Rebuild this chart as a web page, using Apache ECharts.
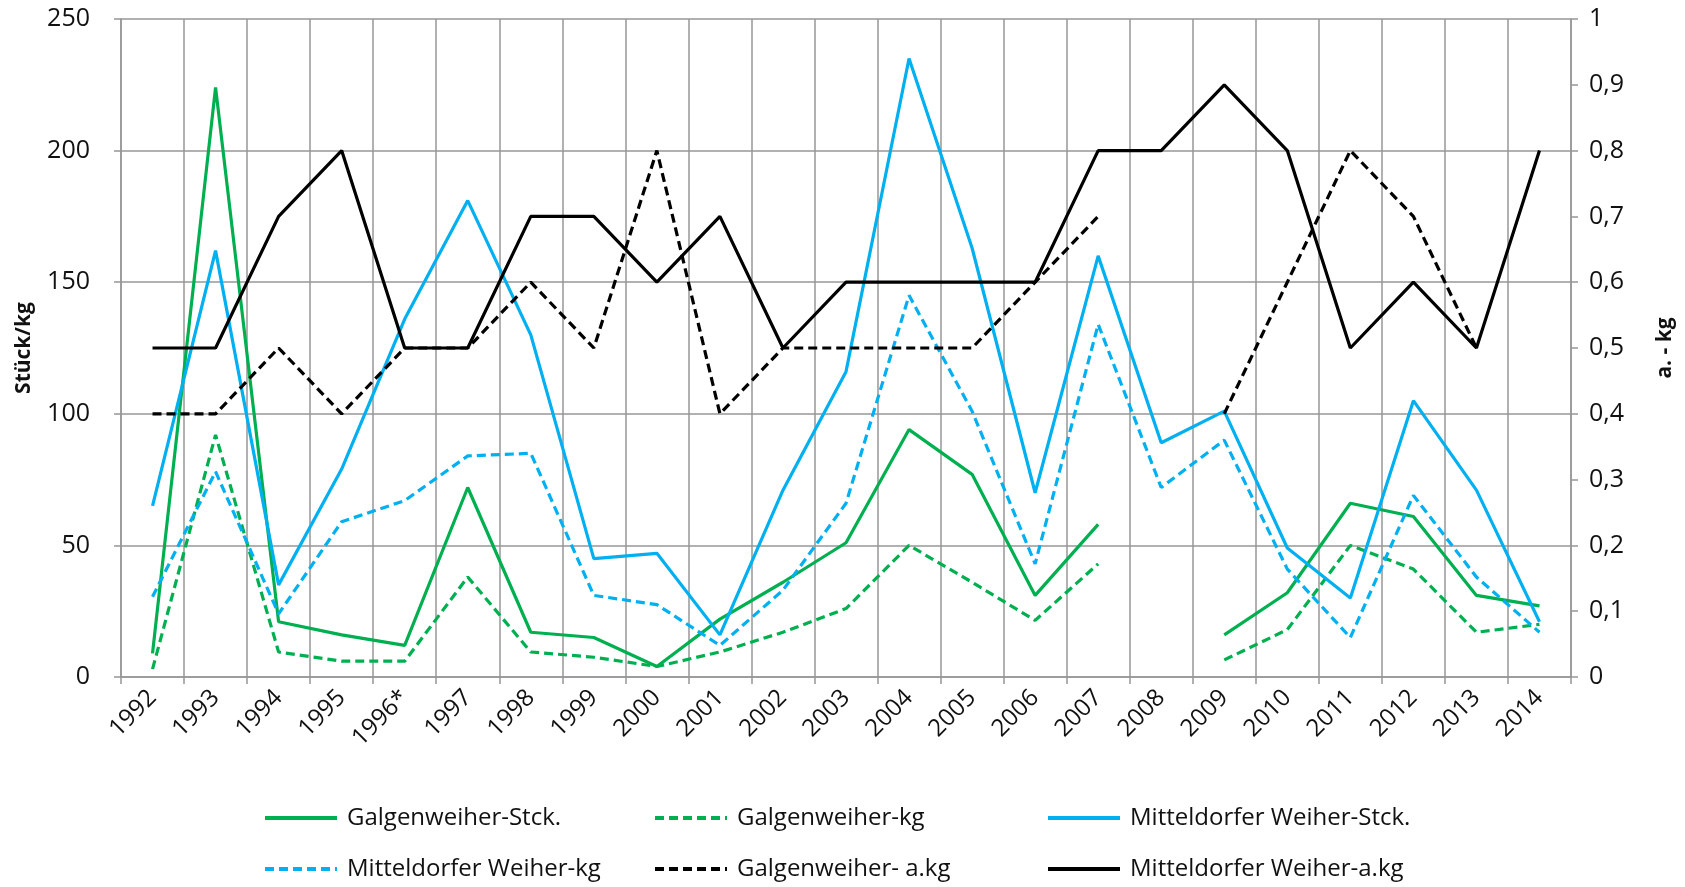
<!DOCTYPE html>
<html>
<head>
<meta charset="UTF-8">
<title>Galgenweiher / Mitteldorfer Weiher</title>
<script src="https://cdn.jsdelivr.net/npm/echarts@6/dist/echarts.min.js"></script>
<style>
    html, body { margin: 0; padding: 0; background: #fff; }
    #main { width: 1685px; height: 887px; }
</style>
</head>
<body>
<div id="main"></div>
<script type="text/javascript">
// Jahre (Kategorien)
var years = ['1992', '1993', '1994', '1995', '1996*', '1997', '1998', '1999', '2000', '2001', '2002',
    '2003', '2004', '2005', '2006', '2007', '2008', '2009', '2010', '2011', '2012', '2013', '2014'];

// linke Achse: Stück/kg
var galgenStck = [9, 224, 21, 16, 12, 72, 17, 15, 4, 22, 36, 51, 94, 77, 31, 58, null, 16, 32, 66, 61, 31, 27];
var galgenKg = [3, 92, 9.5, 6, 6, 38, 9.5, 7.5, 4, 9.5, 17, 26, 50, 36, 21.5, 43, null, 6.5, 18, 50, 41, 17, 20];
var mittelStck = [65, 162, 35, 79, 136, 181, 130, 45, 47, 16, 71, 116, 235, 163, 70, 160, 89, 101, 49, 30, 105, 71, 21];
var mittelKg = [30.5, 78, 24, 59, 67, 84, 85, 31, 27.5, 12, 33, 66, 145, 101, 43, 134, 72, 90, 41, 15, 69, 38, 17];

// rechte Achse: a. - kg
var galgenAkg = [0.4, 0.4, 0.5, 0.4, 0.5, 0.5, 0.6, 0.5, 0.8, 0.4, 0.5, 0.5, 0.5, 0.5, 0.6, 0.7, null, 0.4, 0.6, 0.8, 0.7, 0.5, null];
var mittelAkg = [0.5, 0.5, 0.7, 0.8, 0.5, 0.5, 0.7, 0.7, 0.6, 0.7, 0.5, 0.6, 0.6, 0.6, 0.6, 0.8, 0.8, 0.9, 0.8, 0.5, 0.6, 0.5, 0.8];

var names = ['Galgenweiher-Stck.', 'Galgenweiher-kg', 'Mitteldorfer Weiher-Stck.',
    'Mitteldorfer Weiher-kg', 'Galgenweiher- a.kg', 'Mitteldorfer Weiher-a.kg'];

var FONT = '"Open Sans", sans-serif';
var GRID_COLOR = '#979797';
var GREEN = '#00b050', BLUE = '#00b0f0', BLACK = '#000000';
var DASH = [9, 5];

function lineSeries(name, data, color, dashed, yIdx) {
    return {
        name: name,
        type: 'line',
        yAxisIndex: yIdx,
        data: data,
        symbol: 'none',
        connectNulls: false,
        lineStyle: { color: color, width: 3.2, type: dashed ? DASH : 'solid' },
        itemStyle: { color: color }
    };
}

// Legende: 2 Zeilen x 3 Spalten
var legendPos = [[258, 801], [648, 801], [1041, 801], [258, 852], [648, 852], [1041, 852]];
var legends = names.map(function (n, i) {
    return {
        data: [n],
        left: legendPos[i][0],
        top: legendPos[i][1],
        itemWidth: 72,
        itemHeight: 6,
        lineStyle: { width: 4 },
        itemStyle: { opacity: 0 },
        textStyle: { fontFamily: FONT, fontSize: 24, color: '#111', padding: [0, 0, 0, 5] },
        selectedMode: false
    };
});

var myChart = echarts.init(document.getElementById('main'));

var option = {
    animation: false,
    backgroundColor: '#ffffff',
    grid: { left: 121, right: 114, top: 19, bottom: 210, containLabel: false },
    legend: legends,
    xAxis: {
        type: 'category',
        data: years,
        boundaryGap: true,
        axisLine: { lineStyle: { color: GRID_COLOR, width: 1.5 } },
        axisTick: { show: true, length: 7, lineStyle: { color: GRID_COLOR, width: 1.5 } },
        splitLine: { show: true, lineStyle: { color: GRID_COLOR, width: 1.5 } },
        axisLabel: { rotate: 45, margin: 17, interval: 0, fontFamily: FONT, fontSize: 24, color: '#111' }
    },
    yAxis: [{
        type: 'value',
        min: 0,
        max: 250,
        interval: 50,
        name: 'Stück/kg',
        nameLocation: 'middle',
        nameRotate: 90,
        nameGap: 86,
        nameTextStyle: { fontFamily: FONT, fontSize: 21, fontWeight: 'bold', color: '#111' },
        axisLine: { show: true, lineStyle: { color: GRID_COLOR, width: 1.5 } },
        axisTick: { show: true, length: 7, lineStyle: { color: GRID_COLOR, width: 1.5 } },
        splitLine: { show: true, lineStyle: { color: GRID_COLOR, width: 1.5 } },
        axisLabel: { margin: 31, fontFamily: FONT, fontSize: 25, color: '#111' }
    }, {
        type: 'value',
        position: 'right',
        min: 0,
        max: 1,
        interval: 0.1,
        name: 'a. - kg',
        nameLocation: 'middle',
        nameRotate: 90,
        nameGap: 84,
        nameTextStyle: { fontFamily: FONT, fontSize: 21, fontWeight: 'bold', color: '#111' },
        axisLine: { show: true, lineStyle: { color: GRID_COLOR, width: 1.5 } },
        axisTick: { show: true, length: 7, lineStyle: { color: GRID_COLOR, width: 1.5 } },
        splitLine: { show: false },
        axisLabel: {
            margin: 18, fontFamily: FONT, fontSize: 25, color: '#111',
            formatter: function (v) { return String(+v.toFixed(1)).replace('.', ','); }
        }
    }],
    series: [
        lineSeries(names[0], galgenStck, GREEN, false, 0),
        lineSeries(names[1], galgenKg, GREEN, true, 0),
        lineSeries(names[2], mittelStck, BLUE, false, 0),
        lineSeries(names[3], mittelKg, BLUE, true, 0),
        lineSeries(names[4], galgenAkg, BLACK, true, 1),
        lineSeries(names[5], mittelAkg, BLACK, false, 1)
    ]
};

myChart.setOption(option);
</script>
</body>
</html>
